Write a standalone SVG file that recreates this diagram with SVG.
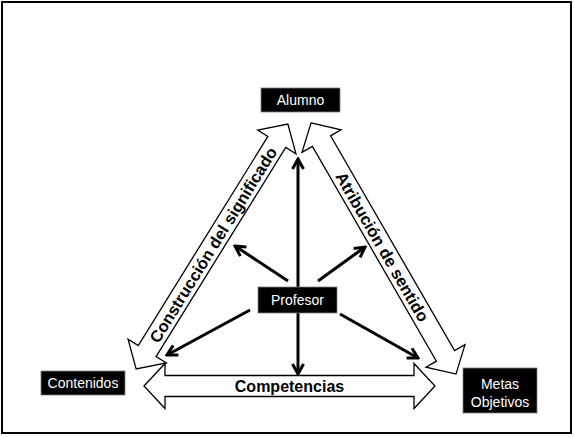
<svg xmlns="http://www.w3.org/2000/svg" width="574" height="437" viewBox="0 0 574 437">
<style>
.box{fill:#000;stroke:#7f7f7f;stroke-width:0.8}
.lbl{font-family:"Liberation Sans",Arial,sans-serif;font-size:14px;fill:#fff;text-anchor:middle}
.big{fill:#fff;stroke:#000;stroke-width:1.3;stroke-linejoin:miter}
.bt{font-family:"Liberation Sans",Arial,sans-serif;font-weight:bold;font-size:16.5px;fill:#000;text-anchor:middle}
.con{stroke:#000;stroke-width:3;fill:none;marker-end:url(#ah)}
</style>
<defs>
<marker id="ah" viewBox="0 0 14 14" refX="12" refY="7" markerWidth="14" markerHeight="14" markerUnits="userSpaceOnUse" orient="auto">
<path d="M2,1.5 L12,7 L2,12.5" fill="none" stroke="#000" stroke-width="3"/>
</marker>
</defs>
<rect x="2" y="2" width="569" height="431" fill="#fff" stroke="#000" stroke-width="2"/>
<g id="connectors">
<g id="construccion" transform="translate(212,246.5) rotate(-58.2)">
<polygon class="big" points="-144,0 -123,-22.5 -123,-10.5 123,-10.5 123,-22.5 144,0 123,22.5 123,10.5 -123,10.5 -123,22.5"/>
<text class="bt" x="2" y="6">Construcción del significado</text>
</g>
<g id="atribucion" transform="translate(383.5,248.5) rotate(60)">
<polygon class="big" points="-145,0 -124,-22.5 -124,-10.5 124,-10.5 124,-22.5 145,0 124,22.5 124,10.5 -124,10.5 -124,22.5"/>
<text class="bt" x="-2" y="6">Atribución de sentido</text>
</g>
<g id="competencias" transform="translate(289.5,386)">
<polygon class="big" points="-145.5,0 -124.5,-22.5 -124.5,-10.5 124.5,-10.5 124.5,-22.5 145.5,0 124.5,22.5 124.5,10.5 -124.5,10.5 -124.5,22.5"/>
<text class="bt" x="0" y="6" style="font-size:16px">Competencias</text>
</g>
<line class="con" x1="298" y1="287" x2="298" y2="159"/>
<line class="con" x1="298" y1="313" x2="298" y2="374"/>
<line class="con" x1="288" y1="281" x2="235" y2="246"/>
<line class="con" x1="250" y1="310" x2="167" y2="355"/>
<line class="con" x1="318" y1="281" x2="365" y2="247"/>
<line class="con" x1="340" y1="314" x2="418" y2="358"/>
</g>
<g id="alumno">
<rect class="box" x="261" y="88" width="79" height="24"/>
<text class="lbl" x="300.5" y="105">Alumno</text>
</g>
<g id="profesor">
<rect class="box" x="258" y="287" width="79" height="26"/>
<text class="lbl" x="297.5" y="305">Profesor</text>
</g>
<g id="contenidos">
<rect class="box" x="41" y="371" width="84" height="24"/>
<text class="lbl" x="83" y="388">Contenidos</text>
</g>
<g id="metas">
<rect class="box" x="463" y="368" width="74" height="45"/>
<text class="lbl" x="500" y="389">Metas</text>
<text class="lbl" x="500" y="407">Objetivos</text>
</g>
</svg>
